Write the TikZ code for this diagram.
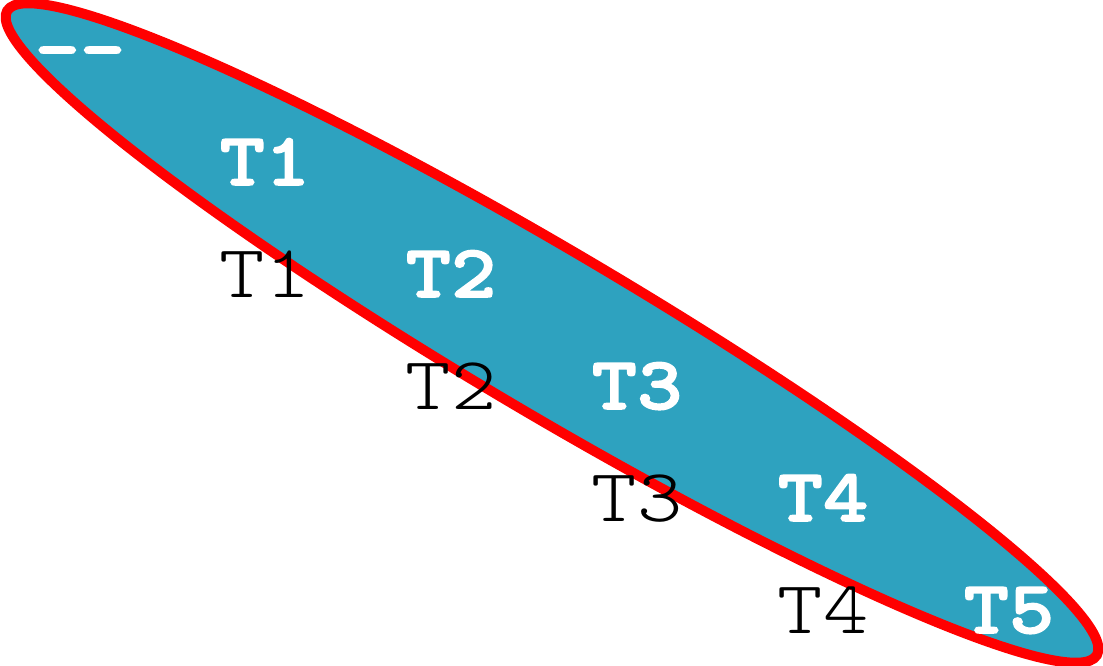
\documentclass[tikz,border=0pt]{standalone}
\usepackage{fontspec}
\newfontfamily\lmlight[FakeStretch=1.15]{Latin Modern Mono Light}
\newfontfamily\lmheavy[FakeStretch=1.15,FakeBold=2]{Latin Modern Mono Light}
\definecolor{teal1}{RGB}{46,162,191}
\definecolor{red1}{RGB}{255,0,0}
\tikzset{
  wlab/.style={anchor=base, inner sep=0pt, text=white, font=\lmheavy\bfseries\fontsize{75}{75}\selectfont},
  blab/.style={anchor=base, inner sep=0pt, text=black, font=\lmlight\fontsize{75}{75}\selectfont},
  blob/.style={fill=teal1, draw=red1, line width=10pt}
}
\begin{document}
\begin{tikzpicture}[x=1pt,y=1pt]
\useasboundingbox (0,0) rectangle (1103,-666);
\draw[blob, rotate around={-30.6:(552,-333)}] (552,-333) ellipse [x radius=633, y radius=81];
\node[wlab] (w0) at (80,-73) {--};
\node[wlab] (w1) at (265,-185) {T1};
\node[wlab] (w2) at (451,-297) {T2};
\node[wlab] (w3) at (637,-409) {T3};
\node[wlab] (w4) at (823,-521) {T4};
\node[wlab] (w5) at (1009,-633) {T5};
\node[blab] (b1) at (265,-297) {T1};
\node[blab] (b2) at (451,-409) {T2};
\node[blab] (b3) at (637,-521) {T3};
\node[blab] (b4) at (823,-633) {T4};
\end{tikzpicture}
\end{document}
